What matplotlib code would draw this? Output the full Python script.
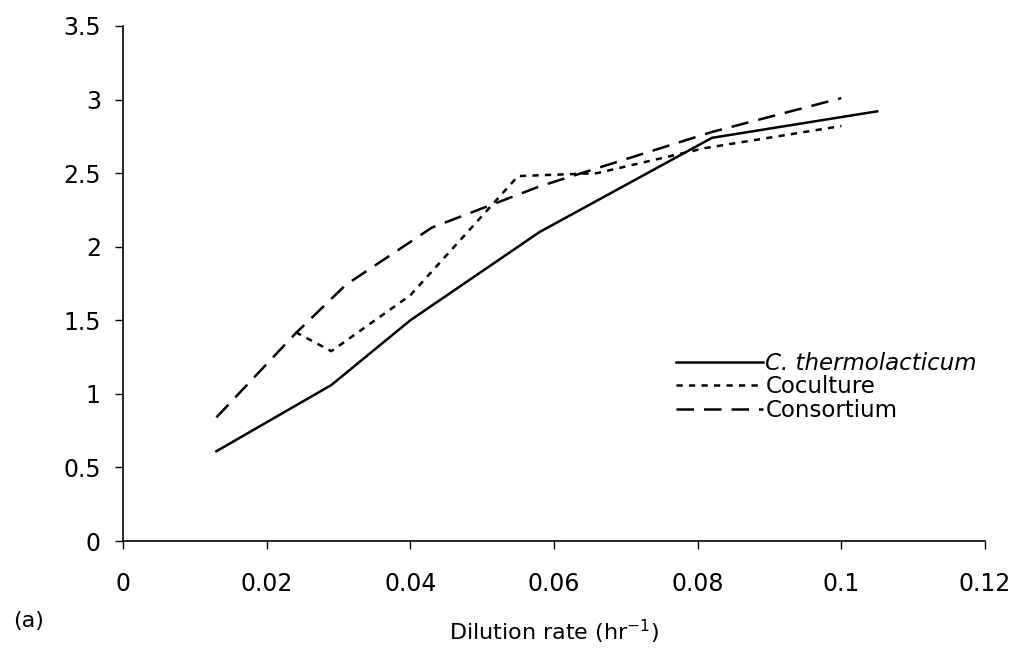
import matplotlib.pyplot as plt

plt.rcParams['mathtext.default'] = 'regular'

# Data
thermo_x = [0.013, 0.029, 0.040, 0.058, 0.082, 0.105]
thermo_y = [0.61, 1.06, 1.50, 2.10, 2.74, 2.92]

cocult_x = [0.024, 0.029, 0.040, 0.055, 0.066, 0.081, 0.100]
cocult_y = [1.42, 1.29, 1.67, 2.48, 2.50, 2.67, 2.82]

consort_x = [0.013, 0.024, 0.031, 0.043, 0.058, 0.082, 0.100]
consort_y = [0.84, 1.41, 1.74, 2.13, 2.41, 2.78, 3.01]

x_ticks = [0, 0.02, 0.04, 0.06, 0.08, 0.1, 0.12]
x_labels = ['0', '0.02', '0.04', '0.06', '0.08', '0.1', '0.12']
y_ticks = [0, 0.5, 1, 1.5, 2, 2.5, 3, 3.5]
y_labels = ['0', '0.5', '1', '1.5', '2', '2.5', '3', '3.5']

fig = plt.figure(figsize=(10.21, 6.48), dpi=100)
ax = fig.add_axes([0.1205, 0.1651, 0.8442, 0.7948])

ax.plot(thermo_x, thermo_y, color='black', lw=1.8, linestyle='-',
        label='C. thermolacticum')
ax.plot(cocult_x, cocult_y, color='black', lw=1.8, linestyle=(0, (2.5, 2.5)),
        label='Coculture')
ax.plot(consort_x, consort_y, color='black', lw=1.8, linestyle=(0, (7, 4)),
        label='Consortium')

ax.set_xlim(0, 0.12)
ax.set_ylim(0, 3.5)
ax.set_xticks(x_ticks)
ax.set_xticklabels(x_labels)
ax.set_yticks(y_ticks)
ax.set_yticklabels(y_labels)
ax.tick_params(direction='out', length=6, width=1, labelsize=17, pad=10,
               colors='black')
ax.tick_params(axis='x', pad=16)

for side in ['top', 'right']:
    ax.spines[side].set_visible(False)
for side in ['left', 'bottom']:
    ax.spines[side].set_linewidth(1.2)

ax.set_xlabel('Dilution rate (hr$^{-1}$)', fontsize=16, labelpad=16)
fig.text(0.013, 0.041, '(a)', fontsize=16, ha='left', va='center')

leg = ax.legend(loc='upper left', bbox_to_anchor=(0.631, 0.385), frameon=False,
                fontsize=16.5, handlelength=3.8, handletextpad=0.1,
                labelspacing=0.02, borderaxespad=0)
leg.get_texts()[0].set_fontstyle('italic')

fig.savefig('out.png', dpi=100)
